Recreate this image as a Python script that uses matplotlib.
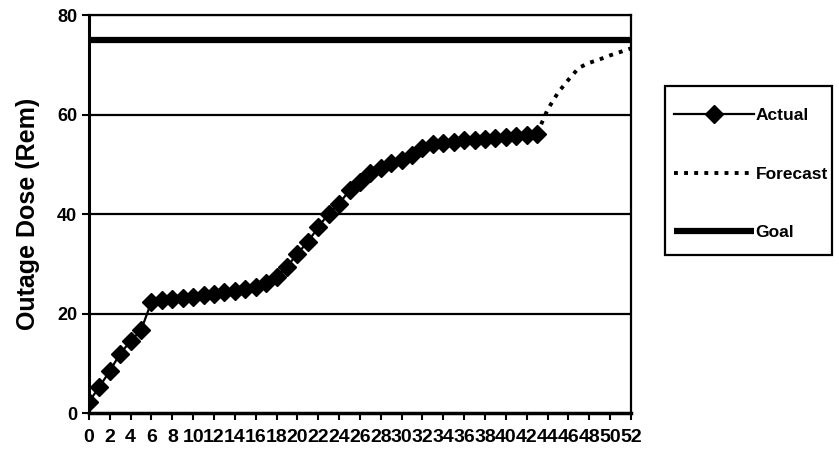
import matplotlib.pyplot as plt
from matplotlib.patches import Rectangle

# weeks into outage
actual_weeks = list(range(0, 44))
actual_dose = [2.3, 5.3, 8.5, 12.0, 14.5, 16.7, 22.4, 22.7, 22.9, 23.1, 23.4,
               23.7, 24.0, 24.3, 24.6, 25.0, 25.4, 26.1, 27.4, 29.4, 32.1, 34.4,
               37.4, 40.1, 42.1, 44.8, 46.5, 48.2, 49.2, 50.2, 50.9, 51.9, 53.2,
               54.0, 54.3, 54.5, 54.9, 55.0, 55.2, 55.4, 55.5, 55.7, 55.9, 56.2]

forecast_weeks = list(range(43, 53))
forecast_dose = [56.2, 61.0, 64.4, 67.0, 69.4, 70.4, 71.1, 71.9, 72.6, 73.3]

goal_weeks = [0, 52]
goal_dose = [75, 75]

x_ticks = list(range(0, 53, 2))
y_ticks = [0, 20, 40, 60, 80]

plt.rcParams['font.family'] = ['Liberation Sans', 'DejaVu Sans']
plt.rcParams['font.weight'] = 'bold'

fig = plt.figure(figsize=(8.39, 4.51), dpi=100)
ax = fig.add_axes([0.106, 0.0836, 0.646, 0.883])

for y in [20, 40, 60, 80]:
    ax.axhline(y, color='black', lw=1.6, zorder=1)

ax.plot(actual_weeks, actual_dose, color='black', lw=1.6, marker='D',
        markersize=9.5, label='Actual', zorder=3)
ax.plot(forecast_weeks, forecast_dose, color='black', lw=2.8,
        linestyle=(0, (1.0, 1.6)), label='Forecast', zorder=2)
ax.plot(goal_weeks, goal_dose, color='black', lw=4.5, label='Goal',
        solid_capstyle='butt', zorder=2)

ax.set_xlim(0, 52)
ax.set_ylim(0, 80)
ax.set_xticks(x_ticks)
ax.set_xticklabels([str(t) for t in x_ticks], fontsize=14, fontweight='bold')
ax.set_yticks(y_ticks)
ax.set_yticklabels([str(t) for t in y_ticks], fontsize=13, fontweight='bold')
ax.tick_params(axis='both', direction='out', length=5, width=1.5, color='black')
ax.tick_params(axis='x', pad=6)

ax.spines['left'].set_linewidth(2.2)
ax.spines['bottom'].set_linewidth(2.5)
ax.spines['right'].set_linewidth(1.6)
ax.spines['top'].set_linewidth(1.6)

ax.set_ylabel('Outage Dose (Rem)', fontsize=18, fontweight='bold', labelpad=12)

# legend box drawn by hand, entries placed inside
fig.patches.append(Rectangle((665 / 839, 1 - 255 / 451), 167 / 839, 169 / 451,
                             transform=fig.transFigure, facecolor='white',
                             edgecolor='black', lw=1.6, zorder=0))
leg = fig.legend(loc='upper left', bbox_to_anchor=(674 / 839, 1 - 108 / 451),
                 borderaxespad=0, borderpad=0, fontsize=12.5, frameon=False,
                 handlelength=4.6, handletextpad=0.1, labelspacing=2.5)
for t in leg.get_texts():
    t.set_fontweight('bold')

fig.savefig('out.png', dpi=100)
